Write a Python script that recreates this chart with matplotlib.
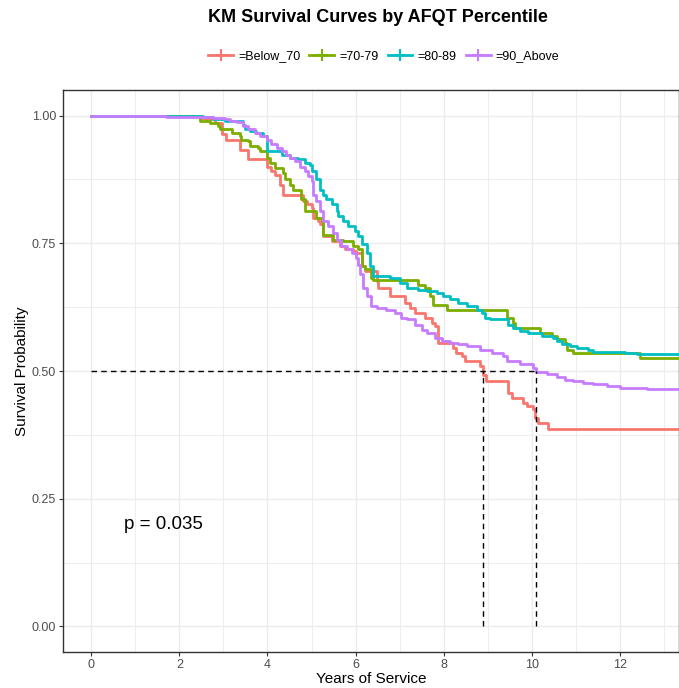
import matplotlib
matplotlib.use("Agg")
import matplotlib.pyplot as plt
from matplotlib.lines import Line2D
from matplotlib.ticker import MultipleLocator, FuncFormatter

plt.rcParams['font.family'] = ['Liberation Sans', 'DejaVu Sans']

title = "KM Survival Curves by AFQT Percentile"
xlabel = "Years of Service"
ylabel = "Survival Probability"
groups = ["=Below_70", "=70-79", "=80-89", "=90_Above"]
colors = ["#F8766D", "#7CAE00", "#00BFC4", "#C77CFF"]
follow_up_end = 13.6

t_below70 = [0, 2.47, 2.58, 2.81, 2.96, 3.07, 3.37, 3.56, 3.98, 4.09, 4.17, 4.28, 4.36, 4.81, 4.89,
             5.00, 5.04, 5.15, 5.19, 5.26, 5.46, 5.64, 5.76, 5.95, 6.02, 6.14, 6.21, 6.48, 6.51, 6.78,
             7.12, 7.23, 7.35, 7.57, 7.73, 7.80, 7.88, 8.22, 8.29, 8.41, 8.48, 8.82, 8.90, 8.97,
             9.46, 9.54, 9.80, 9.88, 10.03, 10.07, 10.15, 10.37]
s_below70 = [1.0, 0.996, 0.993, 0.985, 0.963, 0.953, 0.933, 0.914, 0.900, 0.891, 0.884, 0.865, 0.845, 0.832, 0.826,
             0.819, 0.800, 0.793, 0.787, 0.764, 0.754, 0.744, 0.738, 0.734, 0.731, 0.705, 0.695, 0.676, 0.663, 0.646,
             0.633, 0.624, 0.614, 0.604, 0.594, 0.588, 0.555, 0.545, 0.535, 0.529, 0.519, 0.509, 0.493, 0.480,
             0.457, 0.447, 0.437, 0.431, 0.425, 0.408, 0.399, 0.387]

t_70_79 = [0, 2.46, 2.69, 2.88, 2.92, 3.19, 3.37, 3.41, 3.56, 3.60, 3.79, 3.83, 3.98, 4.05, 4.17, 4.36,
           4.40, 4.51, 4.58, 4.77, 4.85, 5.11, 5.23, 5.26, 5.49, 5.72, 5.95, 6.06, 6.14, 6.21, 6.36, 6.40,
           7.42, 7.57, 7.69, 7.76, 8.07, 9.43, 9.58, 9.62, 10.18, 10.45, 10.56, 10.75, 10.79, 10.94, 12.45]
s_70_79 = [1.0, 0.990, 0.985, 0.979, 0.973, 0.966, 0.960, 0.953, 0.950, 0.940, 0.937, 0.930, 0.917, 0.907, 0.897, 0.887,
           0.875, 0.865, 0.855, 0.836, 0.813, 0.800, 0.793, 0.767, 0.757, 0.754, 0.745, 0.738, 0.705, 0.699, 0.682, 0.679,
           0.669, 0.663, 0.646, 0.630, 0.620, 0.604, 0.594, 0.585, 0.575, 0.568, 0.562, 0.555, 0.542, 0.535, 0.525]

t_80_89 = [0, 2.54, 2.77, 3.03, 3.45, 3.49, 3.60, 3.75, 3.90, 3.98, 4.00, 4.32, 4.51, 4.70, 4.85, 4.96,
           5.00, 5.11, 5.19, 5.26, 5.34, 5.46, 5.57, 5.61, 5.72, 5.83, 5.98, 6.06, 6.14, 6.25, 6.32, 6.40,
           6.78, 7.01, 7.16, 7.42, 7.61, 7.84, 7.99, 8.14, 8.33, 8.52, 8.75, 8.86, 8.93, 9.05, 9.46, 9.58,
           9.73, 9.92, 10.22, 10.49, 10.56, 10.68, 10.86, 11.02, 11.28, 11.39, 12.11, 12.38]
s_80_89 = [1.0, 0.997, 0.993, 0.990, 0.982, 0.973, 0.970, 0.966, 0.960, 0.950, 0.930, 0.923, 0.917, 0.914, 0.907, 0.904,
           0.891, 0.876, 0.855, 0.845, 0.836, 0.826, 0.813, 0.803, 0.793, 0.784, 0.774, 0.764, 0.748, 0.731, 0.705, 0.686,
           0.682, 0.672, 0.663, 0.659, 0.656, 0.653, 0.646, 0.640, 0.633, 0.627, 0.620, 0.614, 0.604, 0.601, 0.591, 0.585,
           0.578, 0.575, 0.568, 0.565, 0.558, 0.552, 0.548, 0.545, 0.542, 0.538, 0.535, 0.533]

t_90_above = [0, 1.70, 2.77, 3.03, 3.15, 3.30, 3.45, 3.56, 3.71, 3.83, 3.98, 4.09, 4.21, 4.32, 4.43, 4.51,
              4.62, 4.74, 4.85, 4.92, 5.00, 5.04, 5.11, 5.19, 5.26, 5.38, 5.49, 5.57, 5.68, 5.80, 5.91, 6.02,
              6.06, 6.10, 6.17, 6.25, 6.36, 6.48, 6.70, 6.89, 7.04, 7.16, 7.35, 7.50, 7.61, 7.80, 7.95, 8.14,
              8.33, 8.52, 8.82, 9.09, 9.35, 9.43, 9.73, 10.03, 10.09, 10.34, 10.56, 10.75, 10.94, 11.17, 11.39,
              11.70, 12.00, 12.61]
s_90_above = [1.0, 0.998, 0.995, 0.993, 0.990, 0.987, 0.979, 0.973, 0.966, 0.960, 0.953, 0.944, 0.937, 0.930, 0.923, 0.917,
              0.911, 0.900, 0.891, 0.881, 0.871, 0.845, 0.832, 0.813, 0.793, 0.784, 0.770, 0.757, 0.744, 0.738, 0.731, 0.721,
              0.708, 0.689, 0.663, 0.646, 0.627, 0.624, 0.620, 0.614, 0.604, 0.601, 0.591, 0.581, 0.575, 0.565, 0.558, 0.555,
              0.552, 0.548, 0.542, 0.535, 0.529, 0.519, 0.513, 0.506, 0.498, 0.494, 0.488, 0.483, 0.480, 0.477, 0.474,
              0.470, 0.467, 0.465]

medians = [8.90, 10.09]
median_level = 0.5
pval_text = "p = 0.035"
pval_pos = (1.65, 0.20)

times = [t_below70, t_70_79, t_80_89, t_90_above]
survs = [s_below70, s_70_79, s_80_89, s_90_above]

W, H = 679, 688
fig = plt.figure(figsize=(W / 100, H / 100), dpi=100)
ax = fig.add_axes([63/W, 36/H, 616/W, 562/H])

grid_c = "#EBEBEB"
ax.set_xlim(-0.64, 13.34)
ax.set_ylim(-0.05, 1.05)
ax.xaxis.set_major_locator(MultipleLocator(2))
ax.xaxis.set_minor_locator(MultipleLocator(1))
ax.yaxis.set_major_locator(MultipleLocator(0.25))
ax.yaxis.set_minor_locator(MultipleLocator(0.125))
ax.grid(which='major', color=grid_c, lw=1.0, zorder=0)
ax.grid(which='minor', color=grid_c, lw=0.6, zorder=0)
ax.set_axisbelow(True)
ax.tick_params(which='minor', length=0)
ax.tick_params(which='major', length=3, width=0.8, color="#333333", labelcolor="#4D4D4D",
               labelsize=9, pad=2)
ax.yaxis.set_major_formatter(FuncFormatter(lambda v, p: f"{v:.2f}"))
for sp in ax.spines.values():
    sp.set_color("#333333")
    sp.set_linewidth(1.0)

for t, s, c in zip(times, survs, colors):
    tt = list(t) + [follow_up_end]
    ss = list(s) + [s[-1]]
    ax.step(tt, ss, where='post', color=c, lw=2.0, zorder=3)

# median lines
ax.plot([0, max(medians)], [median_level, median_level], ls=(0, (4, 3)), color='black', lw=1.0, zorder=4)
for m in medians:
    ax.plot([m, m], [0, median_level], ls=(0, (4, 3)), color='black', lw=1.0, zorder=4)

ax.text(pval_pos[0], pval_pos[1], pval_text, fontsize=13.5, ha='center', va='center', color='black')

ax.set_xlabel(xlabel, fontsize=11, labelpad=1)
ax.set_ylabel(ylabel, fontsize=11, labelpad=2)

fig.text(0.557, 1 - 18/H, title, fontsize=13, fontweight='bold', ha='center', va='center')

# manual legend (single row, aligned on a common centre line)
renderer = fig.canvas.get_renderer()
leg_y = 1 - 55/H
handle_len = 25
gap = 5
col_gap = 9
x = 208.0
for lab, c in zip(groups, colors):
    x0, x1 = x / W, (x + handle_len) / W
    fig.add_artist(Line2D([x0, x1], [leg_y, leg_y], transform=fig.transFigure, color=c, lw=2.0))
    fig.add_artist(Line2D([(x0 + x1) / 2], [leg_y], transform=fig.transFigure, color=c,
                          marker='+', markersize=9, markeredgewidth=1.5, ls='none'))
    txt = fig.text((x + handle_len + gap) / W, leg_y, lab, fontsize=9, ha='left', va='center_baseline')
    tw = txt.get_window_extent(renderer=renderer).width
    x = x + handle_len + gap + tw + col_gap

fig.savefig("out.png", dpi=100)
